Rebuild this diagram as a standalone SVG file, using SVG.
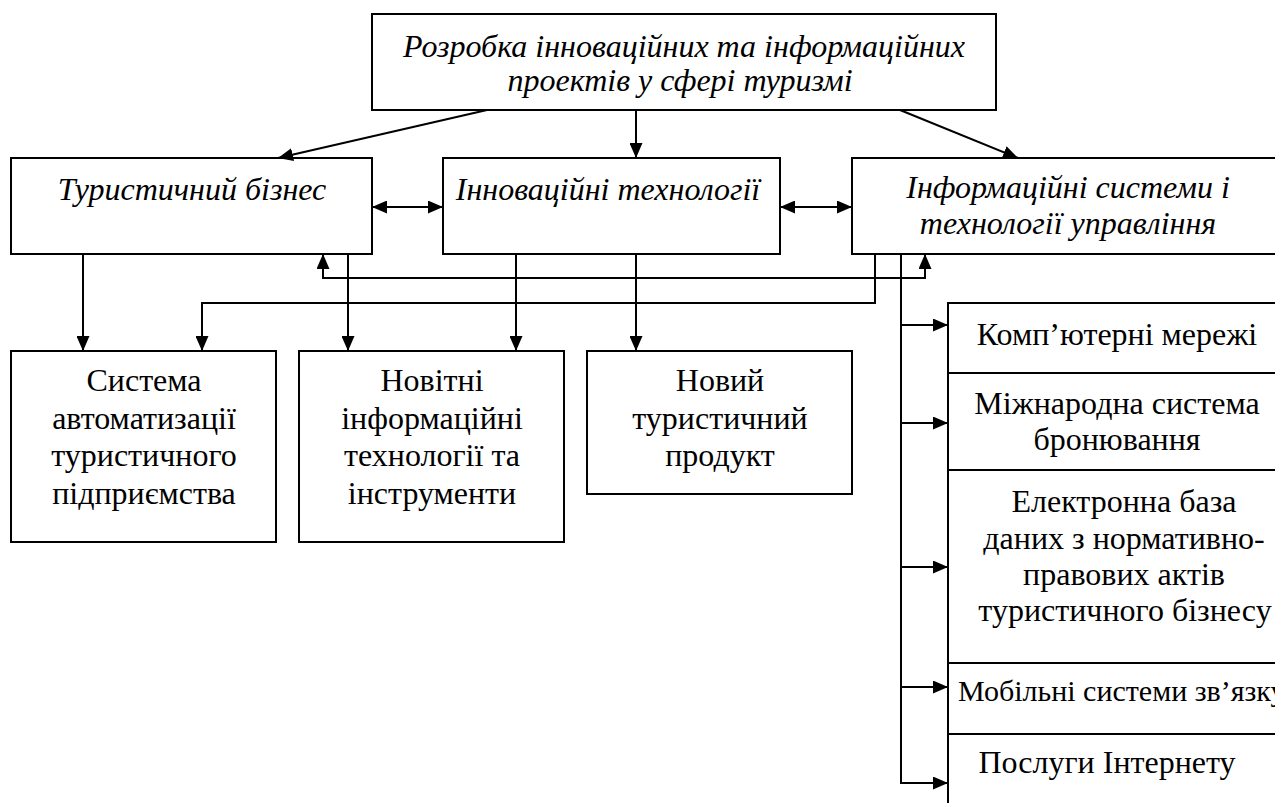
<svg xmlns="http://www.w3.org/2000/svg" width="1275" height="803" viewBox="0 0 1275 803">
<style>
text{font-family:'Liberation Serif','DejaVu Serif',serif;font-size:32px;fill:#000;text-anchor:middle}
.box{fill:#fff;stroke:#000;stroke-width:2}
.i{font-style:italic}
.c{fill:none;stroke:#000;stroke-width:2}
</style>
<defs>
<marker id="ah" markerUnits="userSpaceOnUse" markerWidth="15" markerHeight="13" refX="15" refY="6.5" orient="auto-start-reverse">
<path d="M0,0 L15,6.5 L0,13 z" fill="#000"/>
</marker>
</defs>
<rect width="1275" height="803" fill="#fff"/>
<g id="n-top">
<rect class="box" x="372" y="14" width="624" height="96"/>
<text class="i" x="684" y="57">Розробка інноваційних та інформаційних</text>
<text class="i" x="680" y="91">проектів у сфері туризмі</text>
</g>
<g id="n-biz">
<rect class="box" x="11" y="158" width="361" height="96"/>
<text class="i" x="192" y="200">Туристичний бізнес</text>
</g>
<g id="n-innov">
<rect class="box" x="443" y="158" width="337" height="96"/>
<text class="i" x="608" y="200">Інноваційні технології</text>
</g>
<g id="n-info">
<rect class="box" x="852" y="158" width="440" height="96"/>
<text class="i" x="1068" y="198">Інформаційні системи і</text>
<text class="i" x="1068" y="234">технології управління</text>
</g>
<g id="n-auto">
<rect class="box" x="11" y="351" width="265" height="191"/>
<text x="144" y="391">Система</text>
<text x="144" y="429">автоматизації</text>
<text x="144" y="466">туристичного</text>
<text x="144" y="504">підприємства</text>
</g>
<g id="n-newest">
<rect class="box" x="299" y="351" width="265" height="191"/>
<text x="432" y="391">Новітні</text>
<text x="432" y="429">інформаційні</text>
<text x="432" y="466">технології та</text>
<text x="432" y="504">інструменти</text>
</g>
<g id="n-product">
<rect class="box" x="587" y="351" width="265" height="143"/>
<text x="720" y="391">Новий</text>
<text x="720" y="429">туристичний</text>
<text x="720" y="466">продукт</text>
</g>
<g id="n-net">
<rect class="box" x="948" y="303" width="340" height="70"/>
<text x="1117" y="345">Комп’ютерні мережі</text>
</g>
<g id="n-booking">
<rect class="box" x="948" y="373" width="340" height="97"/>
<text x="1117" y="414">Міжнародна система</text>
<text x="1117" y="450">бронювання</text>
</g>
<g id="n-db">
<rect class="box" x="948" y="470" width="340" height="193"/>
<text x="1124" y="512">Електронна база</text>
<text x="1124" y="549">даних з нормативно-</text>
<text x="1124" y="585">правових актів</text>
<text x="1125" y="621">туристичного бізнесу</text>
</g>
<g id="n-mobile">
<rect class="box" x="948" y="663" width="340" height="71"/>
<text x="958" y="701" style="text-anchor:start;font-size:30px">Мобільні системи зв’язку</text>
</g>
<g id="n-internet">
<rect class="box" x="948" y="734" width="340" height="100"/>
<text x="1107" y="773">Послуги Інтернету</text>
</g>
<g id="connectors">
<path class="c" d="M487,110 L278,158" marker-end="url(#ah)"/>
<path class="c" d="M636,110 V158" marker-end="url(#ah)"/>
<path class="c" d="M900,110 L1018,158" marker-end="url(#ah)"/>
<path class="c" d="M372,207 H443" marker-start="url(#ah)" marker-end="url(#ah)"/>
<path class="c" d="M780,207 H852" marker-start="url(#ah)" marker-end="url(#ah)"/>
<path class="c" d="M83,254 V351" marker-end="url(#ah)"/>
<path class="c" d="M348,254 V351" marker-end="url(#ah)"/>
<path class="c" d="M516,254 V351" marker-end="url(#ah)"/>
<path class="c" d="M636,254 V351" marker-end="url(#ah)"/>
<path class="c" d="M323,254 V278 H925 V254" marker-start="url(#ah)" marker-end="url(#ah)"/>
<path class="c" d="M875,254 V303 H202 V351" marker-end="url(#ah)"/>
<path class="c" d="M901,254 V783 H948" marker-end="url(#ah)"/>
<path class="c" d="M901,325 H948" marker-end="url(#ah)"/>
<path class="c" d="M901,423 H948" marker-end="url(#ah)"/>
<path class="c" d="M901,567 H948" marker-end="url(#ah)"/>
<path class="c" d="M901,687 H948" marker-end="url(#ah)"/>
</g>
</svg>
